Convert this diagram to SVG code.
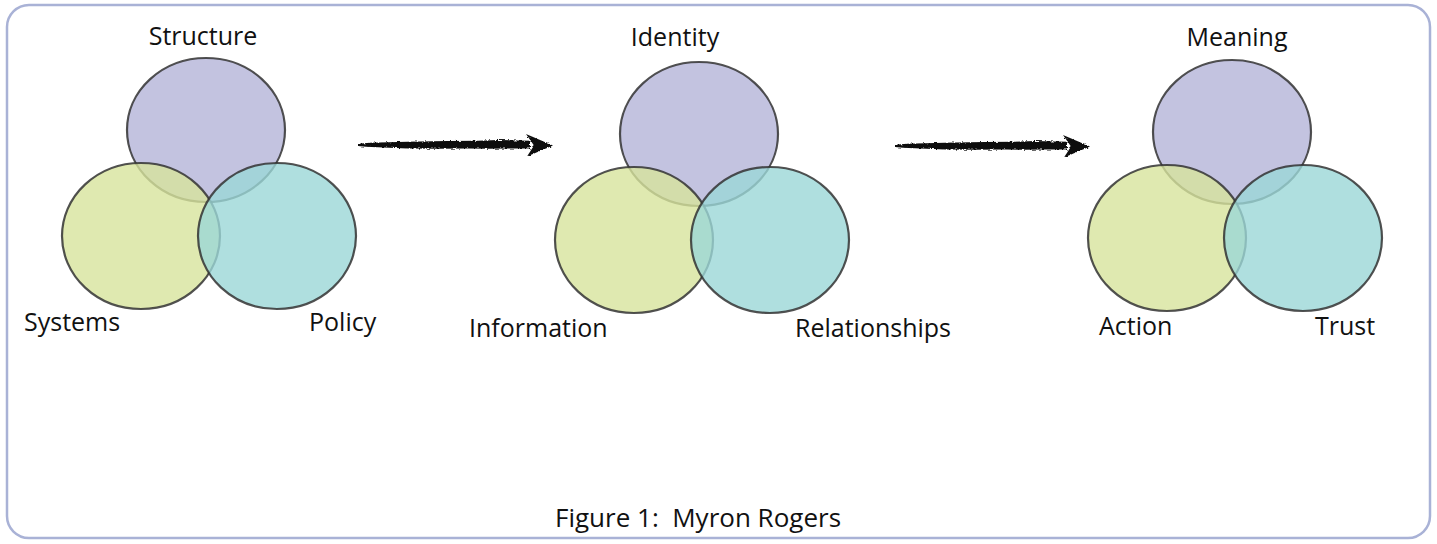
<svg xmlns="http://www.w3.org/2000/svg" width="1437" height="544" viewBox="0 0 1437 544">
  <defs>
    <style>
      .frame { fill: #ffffff; stroke: #a9b2d6; stroke-width: 2.5; }
      .ring { stroke: #333333; stroke-opacity: 0.85; stroke-width: 2.2; fill-opacity: 0.8; }
      .top { fill: #b4b4d8; }
      .left { fill: #d7e39c; }
      .right { fill: #9bd7d7; }
      .label { font-family: "Open Sans", "Liberation Sans", sans-serif; font-size: 25px; fill: #111111; }
      .caption { font-family: "Open Sans", "Liberation Sans", sans-serif; font-size: 26px; fill: #111111; }
      .brush { fill: #111111; }
    </style>
    <!-- ragged edge for the brushed arrows -->
    <filter id="rough" x="-5%" y="-60%" width="110%" height="220%">
      <feTurbulence type="fractalNoise" baseFrequency="0.35 0.9" numOctaves="2" seed="4" result="noise"/>
      <feDisplacementMap in="SourceGraphic" in2="noise" scale="3" xChannelSelector="R" yChannelSelector="G"/>
    </filter>
    <!-- one set of three overlapping circles, centred on (0,0) -->
    <g id="venn">
      <ellipse class="ring top" cx="0" cy="0" rx="79" ry="72"/>
      <ellipse class="ring left" cx="-65" cy="106" rx="79" ry="73"/>
      <ellipse class="ring right" cx="71" cy="106" rx="79" ry="73"/>
    </g>
    <!-- hand-brushed arrow, tail at the origin -->
    <g id="brushArrow" filter="url(#rough)">
      <path class="brush" d="M0,-1.2 L12,-2.2 L30,-2.8 L60,-3.5 L90,-4 L120,-4.2 L140,-5 L160,-4.6 L172,-4.2 L172,3.6 L150,3.4 L130,3.8 L110,3.6 L80,3.8 L50,3.5 L25,2.6 L8,1.8 L0,1 Z"/>
      <path class="brush" d="M168,-11 L195,0.5 L169,11.5 L176,0.5 Z"/>
    </g>
  </defs>

  <rect class="frame" x="7" y="5" width="1423" height="533" rx="22" ry="22"/>

  <g id="connectors">
    <use href="#brushArrow" x="358" y="145"/>
    <use href="#brushArrow" x="895" y="146"/>
  </g>

  <g id="set-left">
    <use href="#venn" x="206" y="130"/>
    <text class="label" x="203" y="45" text-anchor="middle">Structure</text>
    <text class="label" x="24" y="331">Systems</text>
    <text class="label" x="309" y="331">Policy</text>
  </g>

  <g id="set-middle">
    <use href="#venn" x="699" y="134"/>
    <text class="label" x="675" y="46" text-anchor="middle">Identity</text>
    <text class="label" x="469" y="337">Information</text>
    <text class="label" x="795" y="337">Relationships</text>
  </g>

  <g id="set-right">
    <use href="#venn" x="1232" y="132"/>
    <text class="label" x="1237" y="46" text-anchor="middle">Meaning</text>
    <text class="label" x="1099" y="335">Action</text>
    <text class="label" x="1315" y="335">Trust</text>
  </g>

  <g id="caption">
    <text class="caption" x="555" y="527" xml:space="preserve">Figure 1:  Myron Rogers</text>
  </g>
</svg>
